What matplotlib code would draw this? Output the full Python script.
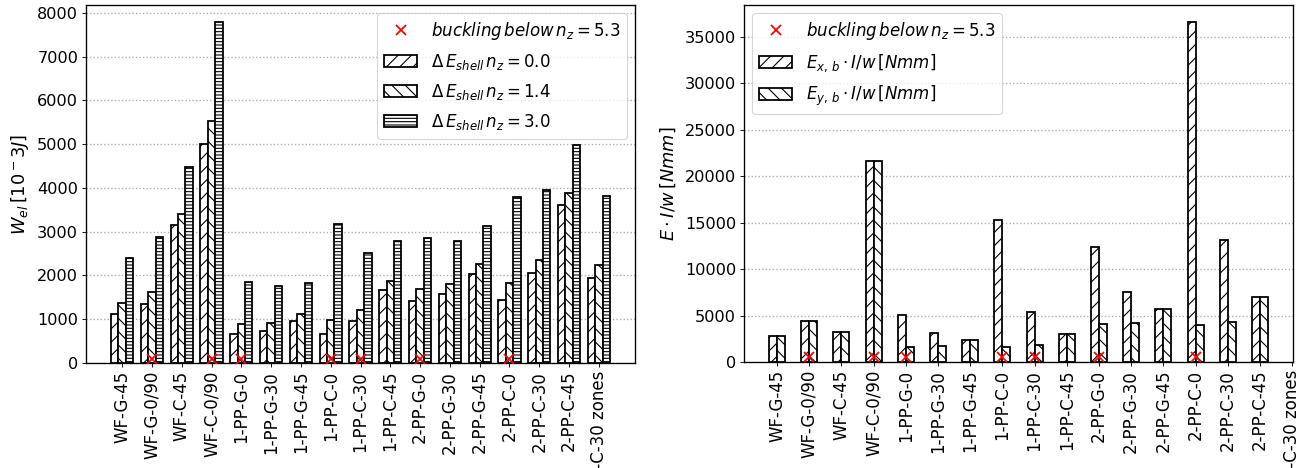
import numpy as np
import matplotlib
matplotlib.use("Agg")
import matplotlib.pyplot as plt

# Specimen names (x tick labels)
specimens = ["WF-G-45", "WF-G-0/90", "WF-C-45", "WF-C-0/90", "1-PP-G-0", "1-PP-G-30",
             "1-PP-G-45", "1-PP-C-0", "1-PP-C-30", "1-PP-C-45", "2-PP-G-0", "2-PP-G-30",
             "2-PP-G-45", "2-PP-C-0", "2-PP-C-30", "2-PP-C-45", "2-PP-C-30 zones"]

# Elastic energy of the shell [10^-3 J] at three load factors
w_el_nz00 = [1120, 1340, 3150, 5000, 660, 740, 960, 670, 950, 1660, 1420, 1580, 2040, 1440, 2050, 3610, 1940]
w_el_nz14 = [1360, 1630, 3400, 5530, 880, 920, 1120, 990, 1210, 1880, 1680, 1810, 2260, 1820, 2360, 3880, 2250]
w_el_nz30 = [2390, 2870, 4470, 7790, 1860, 1760, 1830, 3170, 2520, 2790, 2850, 2790, 3120, 3800, 3950, 4980, 3820]

# Bending stiffness per width [Nmm] (no value for the zoned specimen)
e_xb = [2850, 4420, 3240, 21600, 5100, 3090, 2370, 15250, 5430, 2990, 12370, 7520, 5720, 36620, 13090, 7010]
e_yb = [2850, 4420, 3240, 21600, 1650, 1690, 2370, 1620, 1800, 2990, 4100, 4170, 5720, 3960, 4320, 7010]

# Specimens that buckled below n_z = 5.3
buckled = [1, 3, 4, 7, 8, 10, 13]
marker_y_left = 100
marker_y_right = 500

plt.rcParams.update({
    "font.size": 14.5,
    "xtick.labelsize": 15,
    "hatch.linewidth": 1.0,
    "axes.linewidth": 1.2,
    "legend.fontsize": 15,
    "axes.labelsize": 16,
})

dpi = 80
fig = plt.figure(figsize=(1314 / dpi, 468 / dpi), dpi=dpi)
ax1 = fig.add_axes([86 / 1314, 105 / 468, 549 / 1314, 358 / 468])
ax2 = fig.add_axes([744 / 1314, 106 / 468, 549 / 1314, 357 / 468])

bar_kw = dict(color="white", edgecolor="black", linewidth=1.6)
mk_kw = dict(linestyle="none", marker="x", color="red", markersize=9, markeredgewidth=1.6, zorder=5)

# Left: elastic energy
x = np.arange(len(specimens))
w = 0.25
ax1.plot(x[buckled], [marker_y_left] * len(buckled), label=r"$buckling\,below\,n_z=5.3$", **mk_kw)
ax1.bar(x - w, w_el_nz00, w, hatch="//", label=r"$\Delta\,E_{shell}\,n_z=0.0$", **bar_kw)
ax1.bar(x, w_el_nz14, w, hatch="\\\\", label=r"$\Delta\,E_{shell}\,n_z=1.4$", **bar_kw)
ax1.bar(x + w, w_el_nz30, w, hatch="----", label=r"$\Delta\,E_{shell}\,n_z=3.0$", **bar_kw)
ax1.set_ylabel(r"$W_{el}\,[10^-3J]$", labelpad=6)
ax1.set_xticks(x)
ax1.set_xticklabels(specimens, rotation=90)
ax1.grid(axis="y", linestyle=":", color="#aaaaaa", linewidth=1.2)
ax1.set_axisbelow(True)
ax1.legend(loc="upper right", labelspacing=0.6)

# Right: bending stiffness
x2 = np.arange(len(e_xb))
ax2.plot(x2[buckled], [marker_y_right] * len(buckled), label=r"$buckling\,below\,n_z=5.3$", **mk_kw)
ax2.bar(x2 - w / 2, e_xb, w, hatch="//", label=r"$E_{x,\,b}\cdot I/w\,[Nmm]$", **bar_kw)
ax2.bar(x2 + w / 2, e_yb, w, hatch="\\\\", label=r"$E_{y,\,b}\cdot I/w\,[Nmm]$", **bar_kw)
ax2.set_ylabel(r"$E\cdot I/w\,[Nmm]$", labelpad=6)
ax2.set_xticks(x)
ax2.set_xticklabels(specimens, rotation=90)
ax2.grid(axis="y", linestyle=":", color="#aaaaaa", linewidth=1.2)
ax2.set_axisbelow(True)
ax2.legend(loc="upper left", labelspacing=0.6)

fig.savefig("out.png", dpi=dpi)
